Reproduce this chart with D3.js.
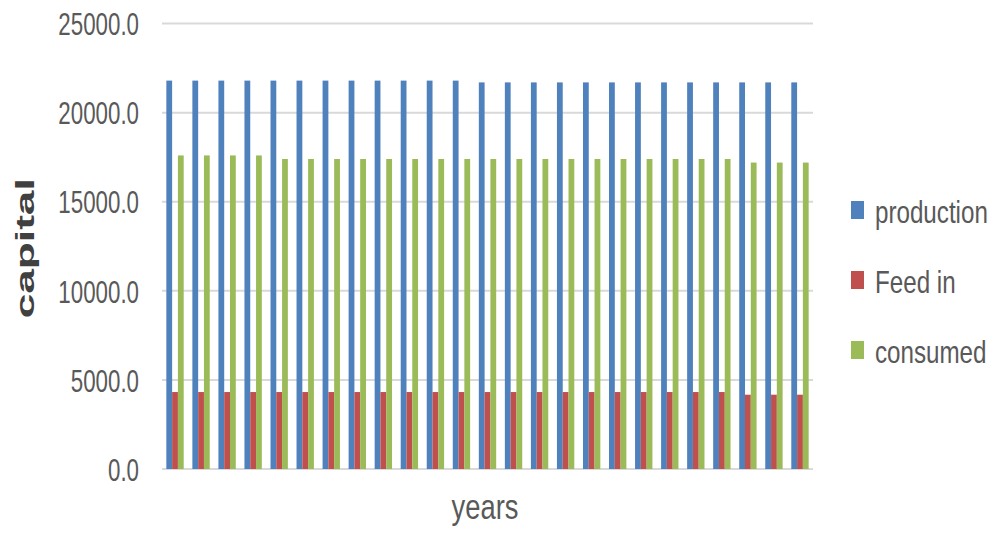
<!DOCTYPE html>
<html><head><meta charset="utf-8">
<script src="https://cdnjs.cloudflare.com/ajax/libs/d3/7.8.5/d3.min.js"></script>
<style>
body{margin:0;background:#fff;}
text{font-family:"Liberation Sans",Arial,sans-serif;}
</style>
</head><body>
<svg id="chart" width="1000" height="535"></svg>
<script>
const years = d3.range(1, 26).map(String);
const production = [21800,21800,21800,21800,21800,21800,21800,21800,21800,21800,21800,21800,
  21700,21700,21700,21700,21700,21700,21700,21700,21700,21700,21700,21700,21700];
const feedIn = [4320,4320,4320,4320,4320,4320,4320,4320,4320,4320,4320,4320,
  4320,4320,4320,4320,4320,4320,4320,4320,4320,4320,4170,4170,4170];
const consumed = [17600,17600,17600,17600,17400,17400,17400,17400,17400,17400,17400,17400,
  17400,17400,17400,17400,17400,17400,17400,17400,17400,17400,17200,17200,17200];
const seriesNames = ["production","Feed in","consumed"];
const seriesColors = ["#4f81bd","#c0504d","#9bbb59"];
const yTicks = [0,5000,10000,15000,20000,25000];

(function(){
const seriesData = [production, feedIn, consumed];
const svg = d3.select("#chart");
const pLeft = 162, pRight = 813, pTop = 23.6, pBottom = 469;

const x = d3.scaleBand().domain(years).range([pLeft, pRight]).paddingInner(0).paddingOuter(0);
const bw = x.bandwidth() / 4.5;
const xs = d3.scaleBand().domain(seriesNames).range([0.75*bw, 3.75*bw]).padding(0);
const y = d3.scaleLinear().domain([0, 25000]).range([pBottom, pTop]);

svg.append("g").selectAll("line").data(yTicks).join("line")
  .attr("x1", pLeft).attr("x2", pRight)
  .attr("y1", d => y(d)).attr("y2", d => y(d))
  .attr("stroke", "#d9d9d9").attr("stroke-width", 2);

const yAxis = d3.axisLeft(y).tickValues(yTicks).tickFormat(d3.format(".1f")).tickSize(0).tickPadding(0);
const ga = svg.append("g").attr("transform", `translate(139,0)`).call(yAxis);
ga.select(".domain").remove();
ga.attr("font-family", null).attr("font-size", null);
ga.selectAll("text").attr("x", 0).attr("font-size", 31).attr("fill", "#595959")
  .attr("dy","0.36em").attr("transform", "scale(0.72,1)");

seriesData.forEach((vals, si) => {
  svg.append("g").selectAll("rect").data(vals).join("rect")
    .attr("x", (d, i) => x(years[i]) + xs(seriesNames[si]))
    .attr("width", xs.bandwidth())
    .attr("y", d => y(d))
    .attr("height", d => y(0) - y(d))
    .attr("fill", seriesColors[si]);
});

svg.append("text").attr("transform", "translate(33.5,248.3) scale(1,1.77) rotate(-90)")
  .attr("text-anchor","middle")
  .attr("font-weight","bold").attr("font-size", 25).attr("fill","#404040").text("capital");
svg.append("text").attr("transform", "translate(485,519) scale(0.76,1)")
  .attr("text-anchor","middle").attr("font-size", 36).attr("fill","#595959").text("years");

const legendY = [210, 280, 350];
const lg = svg.append("g");
seriesNames.forEach((n, i) => {
  lg.append("rect").attr("x", 851).attr("y", legendY[i]-9).attr("width", 13).attr("height", 18).attr("fill", seriesColors[i]);
  lg.append("text").attr("transform", `translate(875,${legendY[i]+13}) scale(0.78,1)`)
    .attr("font-size", 31).attr("fill","#595959").text(n);
});
})();
</script>
</body></html>
